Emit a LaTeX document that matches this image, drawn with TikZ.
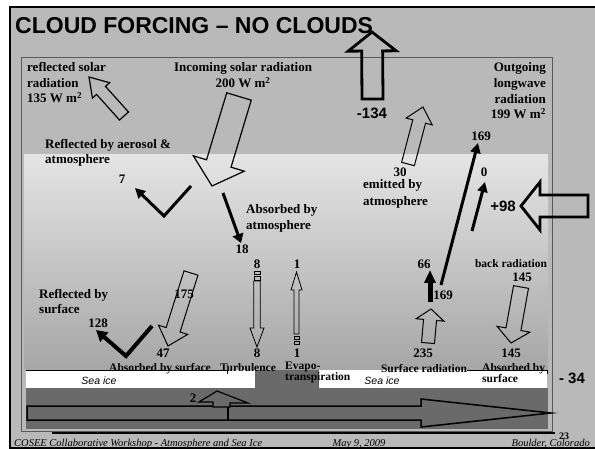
\documentclass[tikz,border=0pt]{standalone}
\usepackage{fontspec}
\setmainfont{Liberation Serif}
\setsansfont{Liberation Sans}
\usepackage{xcolor}
\usetikzlibrary{arrows.meta, calc}
\definecolor{slide}{HTML}{B9B9B9}
\definecolor{atmtop}{HTML}{E4E4E4}
\definecolor{atmbot}{HTML}{A6A6A6}
\definecolor{ocean}{HTML}{6A6A6A}
\definecolor{framegray}{HTML}{5A5A5A}

% hollow block arrow: [style]{start}{tip}{half shaft}{half head}{head length}
\newcommand\blockarrow[6][]{%
  \coordinate (ba-base) at ($(#3)!#6!(#2)$);
  \draw[#1] ($(#2)!#4!90:(#3)$) -- ($(ba-base)!#4!90:(#3)$) -- ($(ba-base)!#5!90:(#3)$)
    -- (#3) -- ($(ba-base)!#5!-90:(#3)$) -- ($(ba-base)!#4!-90:(#3)$) -- ($(#2)!#4!-90:(#3)$) -- cycle;}

\begin{document}
\begin{tikzpicture}[x=1pt, y=-1pt,
  lbl/.style={font=\fontsize{13}{15.5}\selectfont\bfseries, inner sep=0pt},
  sml/.style={font=\fontsize{11.5}{10.5}\selectfont\bfseries, inner sep=0pt},
  flux/.style={font=\fontsize{15}{18}\selectfont\sffamily\bfseries, inner sep=0pt},
  ice/.style={font=\fontsize{10.5}{12}\selectfont\sffamily\itshape, inner sep=0pt},
  foot/.style={font=\fontsize{10.5}{12}\selectfont\itshape, inner sep=0pt},
  hollow/.style={draw=black, line width=1pt},
  bighollow/.style={draw=black, line width=2.8pt},
  blk/.style={line width=3pt, -{Triangle[length=10pt,width=10pt]}},
]
  \useasboundingbox (0,0) rectangle (595,449);
  \fill[white] (0,0) rectangle (595,449);

  % slide and frame
  \fill[slide] (10,7) rectangle (595,449);
  \draw[line width=2pt] (595,7) -- (10,7) -- (10,448) -- (595,448);
  \draw[framegray, line width=0.8pt] (21,57) rectangle (552,431);
  \shade[top color=atmtop, bottom color=atmbot] (24,155) rectangle (548,370);

  % sea ice and ocean
  \fill[white] (26,370) rectangle (255,388);
  \fill[white] (318,370) rectangle (547,388);
  \fill[ocean] (26,388) rectangle (548,429);
  \fill[ocean] (255,370) rectangle (318,388);
  \draw[line width=0.8pt] (26,370) -- (227,370) -- (227,374);
  \draw[line width=0.8pt] (467,370) -- (547,370) -- (547,374);
  \draw[framegray, line width=0.6pt] (318,388) -- (318,370);
  \node[ice] (ice1) at (99,381) {Sea ice};
  \node[ice] (ice2) at (382,381) {Sea ice};

  \draw[line width=1.5pt, fill=ocean] (27,406) -- (421,406) -- (421,399) -- (551,413)
    -- (421,427) -- (421,420) -- (27,420) -- cycle;
  \draw[line width=1.5pt] (228,403) -- (228,420);
  \draw[line width=1.2pt, fill=ocean] (213,407) -- (213,402) -- (199,402) -- (217,391)
    -- (248,403) -- (230,403) -- (230,407) -- cycle;
  \node[lbl] (cond) at (193,398) {2};

  % title and footer
  \node[font=\fontsize{23}{26}\selectfont\sffamily\bfseries, inner sep=0pt, anchor=base west] (title) at (15,33.5) {CLOUD FORCING -- NO CLOUDS};
  \draw[line width=1.6pt] (52,433) -- (555,433);
  \node[foot, anchor=base west] (foot1) at (14,446) {COSEE Collaborative Workshop - Atmosphere and Sea Ice};
  \node[foot, anchor=base] (foot2) at (359,446) {May 9, 2009};
  \node[foot, anchor=base east] (foot3) at (590,446) {Boulder, Colorado};
  \node[font=\fontsize{10}{12}\selectfont\bfseries, inner sep=0pt] (pg) at (564,436) {23};

  % hollow arrows
  \coordinate (rss) at (124,116); \coordinate (rst) at (89,77);
  \coordinate (ins) at (239,96.5); \coordinate (int) at (212,186);
  \coordinate (olrs) at (372.5,99); \coordinate (olrt) at (372,32);
  \coordinate (ems) at (408,164); \coordinate (emt) at (423,107);
  \coordinate (sfs) at (191,273); \coordinate (sft) at (168,346);
  \coordinate (srs) at (428,343); \coordinate (srt) at (431,309);
  \coordinate (brs) at (521,287); \coordinate (brt) at (511,343);
  \coordinate (lws) at (588,206); \coordinate (lwt) at (521,206);
  \coordinate (tbs) at (257,281); \coordinate (tbt) at (257,347);
  \coordinate (evs) at (296.5,334); \coordinate (evt) at (296.5,272);

  \blockarrow[hollow, line width=1.2pt]{rss}{rst}{6pt}{11.5pt}{18pt}
  \blockarrow[hollow, line width=1.2pt]{ins}{int}{12.8pt}{26.6pt}{23.5pt}
  \blockarrow[bighollow]{olrs}{olrt}{10.5pt}{24pt}{19pt}
  \blockarrow[hollow]{ems}{emt}{6.6pt}{13.5pt}{15pt}
  \blockarrow[hollow]{sfs}{sft}{7.3pt}{15.3pt}{17pt}
  \blockarrow[hollow]{srs}{srt}{6.5pt}{14pt}{11pt}
  \blockarrow[hollow]{brs}{brt}{7.6pt}{16.7pt}{14pt}
  \blockarrow[bighollow]{lws}{lwt}{11pt}{24pt}{19pt}
  \blockarrow[hollow, line width=0.8pt]{tbs}{tbt}{3.3pt}{7pt}{19pt}
  \blockarrow[hollow, line width=0.8pt]{evs}{evt}{2.5pt}{5.5pt}{18pt}
  \draw[line width=0.8pt] (254,271) rectangle (260,274) (254,276) rectangle (260,280);
  \draw[line width=0.8pt] (294,336) rectangle (299,339) (294,341) rectangle (299,344);

  % solid arrows
  \coordinate (aer0) at (191,186); \coordinate (aer1) at (164,216); \coordinate (aer2) at (135,188);
  \coordinate (abs0) at (223,193); \coordinate (abs1) at (241,243);
  \coordinate (sur0) at (152,326); \coordinate (sur1) at (126,356); \coordinate (sur2) at (96,330);
  \coordinate (win0) at (441,285); \coordinate (win1) at (478,143);
  \coordinate (zer0) at (472,231); \coordinate (zer1) at (485,182);
  \coordinate (net0) at (430,302); \coordinate (net1) at (430,270);

  \draw[blk] (aer0) -- (aer1) -- (aer2);
  \draw[blk, -{Triangle[length=9pt,width=11pt]}] (abs0) -- (abs1);
  \draw[blk, line width=4pt, -{Triangle[length=11pt,width=12pt]}] (sur0) -- (sur1) -- (sur2);
  \draw[blk] (win0) -- (win1);
  \draw[blk] (zer0) -- (zer1);
  \draw[blk, line width=5pt, -{Triangle[length=13pt,width=11pt]}] (net0) -- (net1);

  % labels
  \node[lbl, align=left, anchor=north west] (reflsol) at (27,62.5) {reflected solar\\radiation\\135 W m\textsuperscript{2}};
  \node[lbl, align=center, anchor=north, font=\fontsize{13}{16}\selectfont\bfseries] (incsol) at (243,62.5) {Incoming solar radiation\\200 W m\textsuperscript{2}};
  \node[lbl, align=right, anchor=north east, font=\fontsize{13}{15.7}\selectfont\bfseries] (olr) at (546,62.5) {Outgoing\\longwave\\radiation\\199 W m\textsuperscript{2}};
  \node[flux] (cf134) at (372,113) {-134};
  \node[flux] (cf98) at (503,206) {+98};
  \node[flux] (cf34) at (572,378) {- 34};

  \node[lbl, align=left, anchor=north west, font=\fontsize{13}{15}\selectfont\bfseries] (aerosol) at (45,139.5) {Reflected by aerosol \&\\atmosphere};
  \node[lbl] (v7) at (122,179) {7};
  \node[lbl] (v18) at (242,249) {18};
  \node[lbl, align=left, anchor=north west, font=\fontsize{13}{16}\selectfont\bfseries] (absatm) at (246,204.5) {Absorbed by\\atmosphere};
  \node[lbl] (v30) at (400,172) {30};
  \node[lbl, align=left, anchor=north west, font=\fontsize{13}{16.5}\selectfont\bfseries] (emit) at (363,179.5) {emitted by\\atmosphere};
  \node[lbl] (v169a) at (481,136) {169};
  \node[lbl] (v0) at (484,172) {0};

  \node[lbl, align=left, anchor=north west, font=\fontsize{13}{15}\selectfont\bfseries] (reflsur) at (39,289.5) {Reflected by\\surface};
  \node[lbl] (v128) at (98,323) {128};
  \node[lbl] (v175) at (184,294) {175};
  \node[lbl] (v47) at (163,353) {47};
  \node[lbl] (v8a) at (257,264) {8};
  \node[lbl] (v8b) at (257,353) {8};
  \node[lbl] (v1a) at (297,264) {1};
  \node[lbl] (v1b) at (297,353) {1};
  \node[lbl] (v66) at (424,264) {66};
  \node[lbl] (v169b) at (443,295) {169};
  \node[sml, font=\fontsize{11.5}{13}\selectfont\bfseries] (back) at (511,264) {back radiation};
  \node[lbl] (v145a) at (522,277) {145};
  \node[lbl] (v235) at (423,353) {235};
  \node[lbl] (v145b) at (511,353) {145};

  \node[sml, anchor=base] (abssur) at (160,372) {Absorbed by surface};
  \node[sml, anchor=base] (turb) at (248,372) {Turbulence};
  \node[sml, align=left, anchor=north west] (evap) at (285,362) {Evapo-\\transpiration};
  \node[sml, anchor=base] (surad) at (424,373) {Surface radiation};
  \node[sml, align=left, anchor=north west] (abssur2) at (482,363) {Absorbed by\\surface};
\end{tikzpicture}
\end{document}
